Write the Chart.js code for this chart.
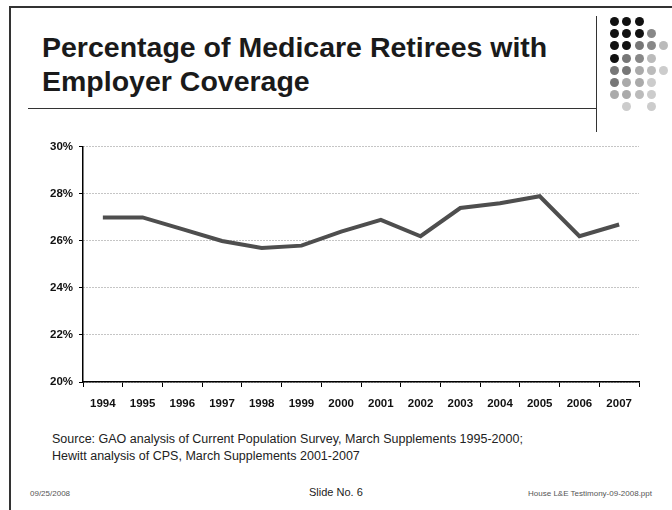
<!DOCTYPE html>
<html>
<head>
<meta charset="utf-8">
<script src="https://cdn.jsdelivr.net/npm/chart.js@4.4.1/dist/chart.umd.min.js"></script>
<style>
  body { margin: 0; width: 672px; height: 510px; background: #fff; font-family: "Liberation Sans", Arial, sans-serif; overflow: hidden; }
  .slide { position: absolute; left: 0; top: 0; width: 672px; height: 510px; }
  .frame { position: absolute; left: 9px; top: 6px; width: 680px; height: 520px; border-left: 2px solid #333; border-top: 2px solid #333; }
  .title { position: absolute; left: 42px; top: 30px; font-size: 28.5px; font-weight: bold; line-height: 34px; color: #1a1a1a; }
  .rule { position: absolute; left: 28px; top: 108px; width: 568px; height: 0; border-top: 1px solid #333; }
  .vrule { position: absolute; left: 596px; top: 16px; width: 0; height: 116px; border-left: 1px solid #333; }
  .dot { position: absolute; width: 9px; height: 9px; border-radius: 50%; }
  .chartbox { position: absolute; left: 20px; top: 134px; width: 625px; height: 285px; }
  .source { position: absolute; left: 52px; top: 431px; font-size: 12.5px; line-height: 17px; color: #222; }
  .foot { position: absolute; top: 486px; color: #555; }
</style>
</head>
<body>
<div class="slide">
  <div class="frame"></div>
  <div class="title">Percentage of Medicare Retirees with<br>Employer Coverage</div>
  <div class="rule"></div>
  <div class="vrule"></div>
  <div id="dots"></div>
  <div class="chartbox"><canvas id="chart"></canvas></div>
  <div class="source">Source: GAO analysis of Current Population Survey, March Supplements 1995-2000;<br>Hewitt analysis of CPS, March Supplements 2001-2007</div>
  <div class="foot" style="left:30px; font-size:8px; top:489px;">09/25/2008</div>
  <div class="foot" style="left:309px; font-size:11px; color:#222;">Slide No. 6</div>
  <div class="foot" style="right:20px; font-size:8px; top:489px;">House L&amp;E Testimony-09-2008.ppt</div>
</div>
<script>
// data
const years = ['1994', '1995', '1996', '1997', '1998', '1999', '2000',
               '2001', '2002', '2003', '2004', '2005', '2006', '2007'];
const coverage = [27.0, 27.0, 26.5, 26.0, 25.7, 25.8, 26.4,
                  26.9, 26.2, 27.4, 27.6, 27.9, 26.2, 26.7];
const yTicks = [20, 22, 24, 26, 28, 30];

// decorative dot pattern in the corner (shade per row)
const dotRows = [
  ['#111', '#111', '#111'],
  ['#111', '#111', '#111', '#888'],
  ['#111', '#111', '#777', '#888', '#bbb'],
  ['#111', '#777', '#888', '#bbb'],
  ['#777', '#777', '#aaa', '#bbb', '#ccc'],
  ['#777', '#aaa', '#aaa', '#ccc'],
  ['#aaa', '#aaa', '#bbb', '#ccc'],
  [null, '#ccc', null, '#ccc']
];
const dotsEl = document.getElementById('dots');
dotRows.forEach((row, r) => {
  row.forEach((c, i) => {
    if (!c) return;
    const d = document.createElement('div');
    d.className = 'dot';
    d.style.left = (610 + i * 12.3) + 'px';
    d.style.top = (17 + r * 12.2) + 'px';
    d.style.background = c;
    dotsEl.appendChild(d);
  });
});

const ctx = document.getElementById('chart').getContext('2d');
new Chart(ctx, {
  type: 'line',
  data: {
    labels: years,
    datasets: [{
      label: 'Employer coverage',
      data: coverage,
      borderColor: '#4e4e4e',
      borderWidth: 4,
      pointRadius: 0,
      tension: 0,
      fill: false
    }]
  },
  options: {
    responsive: true,
    maintainAspectRatio: false,
    animation: false,
    layout: { padding: { top: 10, right: 6, bottom: 0, left: 0 } },
    plugins: { legend: { display: false }, tooltip: { enabled: false } },
    scales: {
      x: {
        offset: true,
        afterFit: (scale) => { scale.height = 37; },
        grid: {
          offset: true,
          drawOnChartArea: false,
          drawTicks: true,
          tickLength: 5,
          color: '#000',
          tickColor: '#000'
        },
        border: { display: true, color: '#000', width: 1.5 },
        ticks: {
          color: '#111',
          padding: 10,
          maxRotation: 0,
          autoSkip: false,
          font: { family: 'Liberation Sans', size: 11.5, weight: 'bold' }
        }
      },
      y: {
        min: 20,
        max: 30,
        afterFit: (scale) => { scale.width = 63; },
        afterBuildTicks: (scale) => { scale.ticks = yTicks.map(v => ({ value: v })); },
        grid: {
          color: '#8a8a8a',
          lineWidth: 1,
          tickLength: 4,
          tickColor: '#000',
          tickBorderDash: []
        },
        border: { display: true, color: '#000', width: 1.5, dash: [1, 2] },
        ticks: {
          color: '#111',
          padding: 6,
          callback: (v) => v + '%',
          font: { family: 'Liberation Sans', size: 11.5, weight: 'bold' }
        }
      }
    }
  }
});
</script>
</body>
</html>
